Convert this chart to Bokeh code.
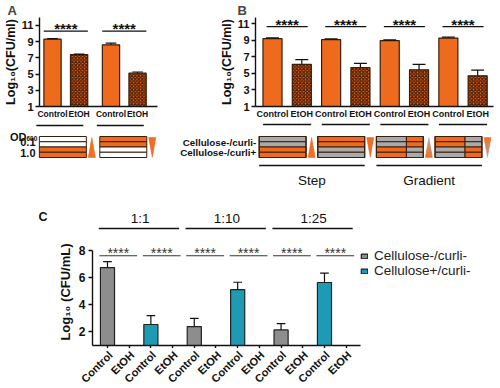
import math
from bokeh.plotting import figure
from bokeh.layouts import column, row
from bokeh.models import ColumnDataSource, Range1d, FixedTicker, Legend, LegendItem
from bokeh.core.properties import value
from bokeh.embed import file_html
from bokeh.resources import INLINE

FONT = "Liberation Sans"
ORANGE = "#EE6B1D"
HATCH = "#4A1C06"
EDGE = "#3A1E0C"
GRAY_C = "#8D8D8D"
TEAL = "#1F9AB5"
BOXGRAY = "#AAAAAA"
BLACK = "#111111"

# ---------------- data ----------------
# Panel A
a_labels = ["Control", "EtOH", "Control", "EtOH"]
a_groups = [0, 0, 1, 1]
a_means = [9.3, 7.4, 8.6, 5.1]
a_err = [0.06, 0.06, 0.2, 0.15]
od_title = ["OD", "600"]
od_labels = ["0.1", "1.0"]
a_layers = [["white", "white", "orange", "orange"],
            ["orange", "orange", "white", "white"]]
a_tri = ["up", "down"]

# Panel B
b_labels = ["Control", "EtOH", "Control", "EtOH", "Control", "EtOH", "Control", "EtOH"]
b_means = [9.2, 6.1, 9.08, 5.7, 8.96, 5.43, 9.27, 4.7]
b_err = [0.08, 0.55, 0.08, 0.5, 0.08, 0.65, 0.1, 0.7]
b_rowlabels = ["Cellulose-/curli-", "Cellulose-/curli+"]
b_layers = [
    [("gray", "gray"), ("gray", "gray"), ("orange", "orange"), ("orange", "orange")],
    [("orange", "orange"), ("orange", "orange"), ("gray", "gray"), ("gray", "gray")],
    [("gray", "orange"), ("gray", "orange"), ("orange", "gray"), ("orange", "gray")],
    [("orange", "gray"), ("orange", "gray"), ("gray", "orange"), ("gray", "orange")],
]
b_tri = ["up", "down", "up", "down"]
b_tri_colors = [("orange", "orange"), ("orange", "orange"), ("orange", "gray"), ("orange", "gray")]
b_sections = ["Step", "Gradient"]

yticks_ab = [1, 3, 5, 7, 9, 11]
sig_text = "****"

# Panel C
c_ratios = ["1:1", "1:10", "1:25"]
c_labels = ["Control", "EtOH"] * 6
c_strains = ["Cellulose-/curli-", "Cellulose+/curli-"]
c_gray_means = [6.75, 2.4, 2.15]
c_gray_err = [0.45, 0.6, 0.47]
c_teal_means = [2.55, 5.12, 5.65]
c_teal_err = [0.65, 0.55, 0.7]
c_yticks = [2, 4, 6, 8]

COLORS = {"white": "#FFFFFF", "orange": ORANGE, "gray": BOXGRAY}


def bar_fig(width, height, left, right, top, bottom, xr, yr):
    p = figure(width=width, height=height, x_range=Range1d(*xr), y_range=Range1d(*yr),
               output_backend="svg", toolbar_location=None,
               min_border_left=left, min_border_right=right,
               min_border_top=top, min_border_bottom=bottom)
    p.frame_align = False
    p.xgrid.visible = False
    p.ygrid.visible = False
    p.outline_line_color = None
    for ax in (p.xaxis[0], p.yaxis[0]):
        ax.axis_line_width = 1.4
        ax.axis_line_color = BLACK
        ax.major_tick_line_width = 1.4
        ax.major_tick_line_color = BLACK
        ax.minor_tick_line_color = None
        ax.major_tick_in = 0
        ax.major_label_text_font = FONT
        ax.major_label_text_font_style = "bold"
        ax.major_label_text_color = BLACK
        ax.axis_label_text_font = FONT
        ax.axis_label_text_font_style = "bold"
        ax.axis_label_text_color = BLACK
    return p


def canvas_fig(width, height):
    p = figure(width=width, height=height, x_range=Range1d(0, width), y_range=Range1d(height, 0),
               output_backend="svg", toolbar_location=None, min_border=0,
               min_border_left=0, min_border_right=0, min_border_top=0, min_border_bottom=0,
               x_axis_location=None, y_axis_location=None)
    p.frame_align = False
    p.grid.visible = False
    p.outline_line_color = None
    return p


def add_bars(p, xs, tops, errs, bottom, width, fill, cap, hatch=False):
    src = ColumnDataSource(dict(x=xs, top=tops,
                                hi=[t + e for t, e in zip(tops, errs)],
                                x0=[x - cap for x in xs], x1=[x + cap for x in xs]))
    kw = {}
    if hatch:
        kw = dict(hatch_pattern="diagonal_cross", hatch_color=HATCH, hatch_scale=3.5, hatch_weight=1.3)
    r = p.vbar(x="x", top="top", bottom=bottom, width=width, source=src,
               fill_color=fill, line_color=EDGE, line_width=1.2, **kw)
    p.segment(x0="x", y0="top", x1="x", y1="hi", source=src, line_color=BLACK, line_width=1.2)
    p.segment(x0="x0", y0="hi", x1="x1", y1="hi", source=src, line_color=BLACK, line_width=1.2)
    return r


def add_sig(p, pairs, y_line, pad, font_size, style, color, line_w, star_dy):
    p.segment(x0=[a - pad for a, b in pairs], y0=[y_line] * len(pairs),
              x1=[b + pad for a, b in pairs], y1=[y_line] * len(pairs),
              line_color=color, line_width=line_w)
    p.text(x=[(a + b) / 2 for a, b in pairs], y=[y_line + star_dy] * len(pairs),
           text=[sig_text] * len(pairs), text_font=value(FONT), text_font_size=font_size,
           text_font_style=style, text_color=color, text_align="center",
           text_baseline="alphabetic")


def tri_patches(p, xl, xr, ytop, ybot, direction, wide_col, tip_col, n=10):
    xc = (xl + xr) / 2
    hw = (xr - xl) / 2
    c1 = [int(wide_col[i:i + 2], 16) for i in (1, 3, 5)]
    c2 = [int(tip_col[i:i + 2], 16) for i in (1, 3, 5)]
    xs, ys, cols = [], [], []
    if direction == "up":
        ybase, yapex = ybot, ytop
    else:
        ybase, yapex = ytop, ybot
    for k in range(n):
        f0, f1 = k / n, (k + 1) / n
        y0 = ybase + (yapex - ybase) * f0
        y1 = ybase + (yapex - ybase) * f1
        w0 = hw * (1 - f0)
        w1 = hw * (1 - f1)
        xs.append([xc - w0, xc + w0, xc + w1, xc - w1])
        ys.append([y0, y0, y1, y1])
        fm = (f0 + f1) / 2
        cols.append("#%02x%02x%02x" % tuple(int(a + (b - a) * fm) for a, b in zip(c1, c2)))
    p.patches(xs=xs, ys=ys, fill_color=cols, line_color=cols, line_width=0.5)


ROW_TOP, ROW_H = 15, 5.25
TOP_H = 121
DECO_H = 74

# ---------------- Panel A ----------------
A_W, A_L, A_R, A_T, A_B = 172, 35, 15, 12, 14
a_x = [i + 0.2 * g for i, g in enumerate(a_groups)]
fa_x0, fa_x1 = -0.49, 3.95
fa = bar_fig(A_W, TOP_H, A_L, A_R, A_T, A_B, (fa_x0, fa_x1), (1, 11.96))
fa.title.text = "A"
fa.title.align = "left"
fa.title.offset = -32
fa.title.standoff = 0
fa.title.text_font = FONT
fa.title.text_font_size = "13px"
fa.title.text_font_style = "bold"

ctrl_i = [i for i, l in enumerate(a_labels) if l == "Control"]
etoh_i = [i for i, l in enumerate(a_labels) if l == "EtOH"]
add_bars(fa, [a_x[i] for i in ctrl_i], [a_means[i] for i in ctrl_i], [a_err[i] for i in ctrl_i],
         1, 0.65, ORANGE, 0.2)
add_bars(fa, [a_x[i] for i in etoh_i], [a_means[i] for i in etoh_i], [a_err[i] for i in etoh_i],
         1, 0.65, ORANGE, 0.2, hatch=True)
add_sig(fa, [(a_x[0], a_x[1]), (a_x[2], a_x[3])], 10.28, 0.33, "15px", "bold", BLACK, 1.3, 0.3)
fa.yaxis.ticker = FixedTicker(ticks=yticks_ab)
fa.yaxis.axis_label = "Log\u2081\u2080(CFU/ml)"
fa.yaxis.axis_label_text_font_size = "12.5px"
fa.yaxis.axis_label_standoff = 1
fa.yaxis.major_label_text_font_size = "11px"
fa.yaxis.major_label_standoff = 2
fa.yaxis.major_tick_out = 4
fa.xaxis.ticker = FixedTicker(ticks=a_x)
fa.xaxis.major_label_overrides = {x: l for x, l in zip(a_x, a_labels)}
fa.xaxis.major_label_text_font_size = "8.5px"
fa.xaxis.major_tick_out = 0
fa.xaxis.major_label_standoff = 2

# decoration below A
da = canvas_fig(A_W, DECO_H)
unitA = (A_W - A_L - A_R) / (fa_x1 - fa_x0)


def ax_px(u):
    return A_L + (u - fa_x0) * unitA


for g in range(2):
    left = ax_px(a_x[2 * g] - 0.35)
    right = left + 1.71 * unitA
    da.quad(left=[left] * 4, right=[right] * 4,
            top=[ROW_TOP + r * ROW_H for r in range(4)],
            bottom=[ROW_TOP + (r + 1) * ROW_H for r in range(4)],
            fill_color=[COLORS[c] for c in a_layers[g]], line_color=EDGE, line_width=1)
    da.segment(x0=[left - 3], y0=[4], x1=[right - 3], y1=[4], line_color=BLACK, line_width=1.4)
    tl = right + 0.07 * unitA
    tri_patches(da, tl, tl + 0.26 * unitA, ROW_TOP + 1, ROW_TOP + 4 * ROW_H,
                a_tri[g], ORANGE, ORANGE)
da.text(x=[26], y=[15], text=[od_title[0]], text_font=value(FONT), text_font_size="11px",
        text_font_style="bold", text_color=BLACK, text_align="right", text_baseline="alphabetic")
da.text(x=[26], y=[16.5], text=[od_title[1]], text_font=value(FONT), text_font_size="6.5px",
        text_font_style="bold", text_color=BLACK, text_align="left", text_baseline="alphabetic")
da.text(x=[A_L] * 2, y=[ROW_TOP + ROW_H + 0.5, ROW_TOP + 3 * ROW_H + 0.5],
        text=od_labels, text_font=value(FONT), text_font_size="11px",
        text_font_style="bold", text_color=BLACK, text_align="right", text_baseline="middle")

# ---------------- Panel B ----------------
B_W, B_L, B_R, B_T, B_B = 328, 83, 7, 12, 14
b_x = list(range(len(b_labels)))
fb_x0, fb_x1 = -0.58, 7.54
fb = bar_fig(B_W, TOP_H, B_L, B_R, B_T, B_B, (fb_x0, fb_x1), (1, 11.75))
fb.title.text = "B"
fb.title.align = "left"
fb.title.offset = -18
fb.title.standoff = 0
fb.title.text_font = FONT
fb.title.text_font_size = "13px"
fb.title.text_font_style = "bold"
add_bars(fb, b_x[0::2], b_means[0::2], b_err[0::2], 1, 0.65, ORANGE, 0.22)
add_bars(fb, b_x[1::2], b_means[1::2], b_err[1::2], 1, 0.65, ORANGE, 0.22, hatch=True)
add_sig(fb, [(b_x[i], b_x[i + 1]) for i in range(0, 8, 2)], 10.64, 0.2, "15px", "bold", BLACK, 1.3, 0.3)
fb.yaxis.ticker = FixedTicker(ticks=yticks_ab)
fb.yaxis.axis_label = "Log\u2081\u2080(CFU/ml)"
fb.yaxis.axis_label_text_font_size = "12.5px"
fb.yaxis.axis_label_standoff = 1
fb.yaxis.major_label_text_font_size = "11px"
fb.yaxis.major_label_standoff = 2
fb.yaxis.major_tick_out = 4
fb.xaxis.ticker = FixedTicker(ticks=b_x)
fb.xaxis.major_label_overrides = {x: l for x, l in zip(b_x, b_labels)}
fb.xaxis.major_label_text_font_size = "9px"
fb.xaxis.major_tick_out = 0
fb.xaxis.major_label_standoff = 2

db = canvas_fig(B_W, DECO_H)
unitB = (B_W - B_L - B_R) / (fb_x1 - fb_x0)


def bx_px(u):
    return B_L + (u - fb_x0) * unitB


box_lefts, box_rights = [], []
for g in range(4):
    pc = (b_x[2 * g] + b_x[2 * g + 1]) / 2
    left = bx_px(pc - 0.955)
    right = left + 1.6 * unitB
    box_lefts.append(left)
    box_rights.append(right)
    split = left + 0.64 * (right - left)
    ql, qr, qt, qb, qc = [], [], [], [], []
    for r, (cl, cr) in enumerate(b_layers[g]):
        t = ROW_TOP + r * ROW_H
        b = t + ROW_H
        if cl == cr:
            ql.append(left); qr.append(right); qt.append(t); qb.append(b); qc.append(COLORS[cl])
        else:
            ql += [left, split]; qr += [split, right]; qt += [t, t]; qb += [b, b]
            qc += [COLORS[cl], COLORS[cr]]
    db.quad(left=ql, right=qr, top=qt, bottom=qb, fill_color=qc, line_color=EDGE, line_width=1)
    db.quad(left=[left], right=[right], top=[ROW_TOP], bottom=[ROW_TOP + 4 * ROW_H],
            fill_color=None, line_color=EDGE, line_width=1.2)
    db.segment(x0=[bx_px(pc - 0.82)], y0=[3], x1=[bx_px(pc + 0.82)], y1=[3],
               line_color=BLACK, line_width=1.4)
    tl = right + 0.07 * unitB
    wc, tc = b_tri_colors[g]
    tri_patches(db, tl, tl + 0.24 * unitB, ROW_TOP + 1, ROW_TOP + 4 * ROW_H,
                b_tri[g], COLORS[wc], COLORS[tc])
db.text(x=[box_lefts[0] - 3] * 2, y=[ROW_TOP + ROW_H + 0.5, ROW_TOP + 3 * ROW_H + 0.5],
        text=b_rowlabels, text_font=value(FONT), text_font_size="9.8px", text_font_style="bold",
        text_color=BLACK, text_align="right", text_baseline="middle")
sec_x0 = [box_lefts[0], box_lefts[2]]
sec_x1 = [box_rights[1], box_rights[3]]
db.segment(x0=sec_x0, y0=[44] * 2, x1=sec_x1, y1=[44] * 2, line_color=BLACK, line_width=1.4)
db.text(x=[(a + b) / 2 for a, b in zip(sec_x0, sec_x1)], y=[59] * 2, text=b_sections,
        text_font=value(FONT), text_font_size="13.5px", text_color=BLACK,
        text_align="center", text_baseline="middle")

# ---------------- Panel C ----------------
C_W = 500
DC_H = 43
FC_H = 110
LC_H = 388 - 195 - DC_H - FC_H
C_L, C_R, C_T, C_B = 92, 2, 0, 3
c_x = list(range(len(c_labels)))
fc_x0 = -0.69
unitC = 21.7
fc_x1 = fc_x0 + (C_W - C_L - C_R) / unitC
c_axis_end = 11.66

fc = bar_fig(C_W, FC_H, C_L, C_R, C_T, C_B, (fc_x0, fc_x1), (1, 8.9))
gray_x = [c_x[i] for i in range(0, 12, 4)]
teal_x = [c_x[i] for i in range(2, 12, 4)]
r_gray = add_bars(fc, gray_x, c_gray_means, c_gray_err, 1, 0.65, GRAY_C, 0.2)
r_teal = add_bars(fc, teal_x, c_teal_means, c_teal_err, 1, 0.65, TEAL, 0.2)
for r in (r_gray, r_teal):
    r.glyph.line_color = "#222222"
add_sig(fc, [(c_x[i], c_x[i + 1]) for i in range(0, 12, 2)], 7.63, 0.37, "14px", "normal",
        "#333333", 1.1, 0.22)
fc.yaxis.ticker = FixedTicker(ticks=c_yticks)
fc.yaxis.bounds = (1, 8)
fc.yaxis.axis_label = "Log\u2081\u2080 (CFU/mL)"
fc.yaxis.axis_label_text_font_size = "13px"
fc.yaxis.axis_label_standoff = 3
fc.yaxis.major_label_text_font_size = "12px"
fc.yaxis.major_label_standoff = 3
fc.yaxis.major_tick_out = 4
fc.xaxis.ticker = FixedTicker(ticks=c_x)
fc.xaxis.bounds = (fc_x0, c_axis_end)
fc.xaxis.major_label_overrides = {x: "" for x in c_x}
fc.xaxis.major_label_text_font_size = "0px"
fc.xaxis.major_label_standoff = 0
fc.xaxis.major_tick_out = 3

legend = Legend(items=[LegendItem(label=c_strains[0], renderers=[r_gray]),
                       LegendItem(label=c_strains[1], renderers=[r_teal])],
                location=(268, 67), label_text_font=FONT, label_text_font_size="13.5px",
                label_text_color="#222222", glyph_width=8, glyph_height=6, label_standoff=6,
                label_height=12, spacing=0, padding=0, margin=0,
                border_line_color=None, background_fill_alpha=0)
fc.add_layout(legend)

dc = canvas_fig(C_W, DC_H)


def cx_px(u):
    return C_L + (u - fc_x0) * unitC


dc.text(x=[38], y=[21], text=["C"], text_font=value(FONT), text_font_size="12.5px",
        text_font_style="bold", text_color=BLACK, text_align="left", text_baseline="middle")
dc.text(x=[cx_px(4 * g + 1.5) for g in range(3)], y=[23] * 3, text=c_ratios,
        text_font=value(FONT), text_font_size="13.5px", text_color=BLACK,
        text_align="center", text_baseline="middle")
dc.segment(x0=[cx_px(4 * g - 0.4) for g in range(3)], y0=[33] * 3,
           x1=[cx_px(4 * g + 3.3) for g in range(3)], y1=[33] * 3,
           line_color=BLACK, line_width=1.3)

# rotated category labels under panel C's x axis
lc = canvas_fig(C_W, LC_H)
lc.text(x=[cx_px(x) + 3 for x in c_x], y=[4.5] * len(c_x), text=c_labels, angle=math.pi / 4,
        text_font=value(FONT), text_font_size="11px", text_font_style="bold", text_color=BLACK,
        text_align="right", text_baseline="middle")

layout = column(row(column(fa, da), column(fb, db)), column(dc, fc, lc))
open("out.html", "w").write(file_html(layout, INLINE))
